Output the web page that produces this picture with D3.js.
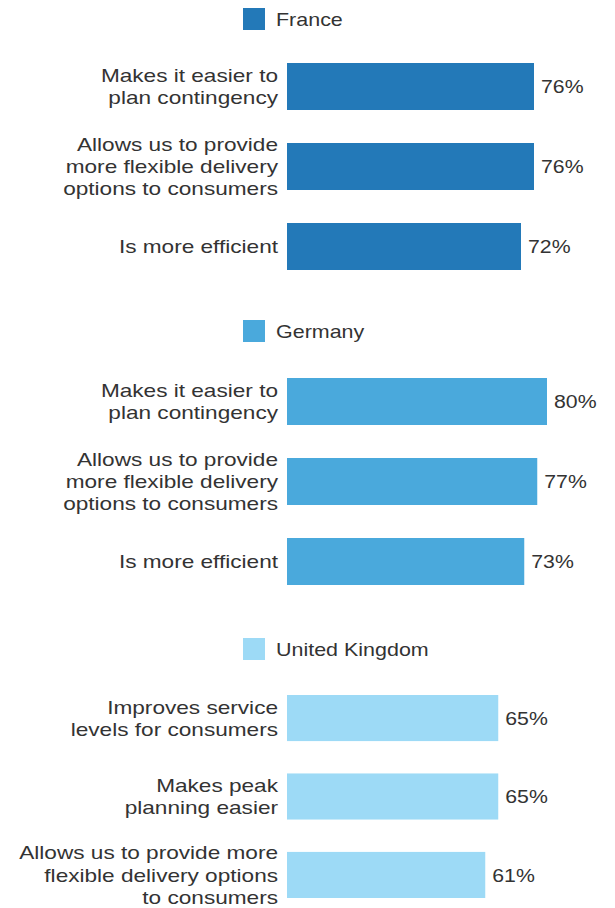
<!DOCTYPE html>
<html>
<head>
<meta charset="utf-8">
<script src="https://cdn.jsdelivr.net/npm/d3@7"></script>
<style>
  body { margin: 0; background: #fff; }
  text { font-family: "Liberation Sans", Arial, sans-serif; fill: #333; }
</style>
</head>
<body>
<div id="chart"></div>
<script>
// data
var countries = ["France", "Germany", "United Kingdom"];
var colors = ["#2379b8", "#4aa9dc", "#9ddaf6"];

var franceLabels = [
    ["Makes it easier to", "plan contingency"],
    ["Allows us to provide", "more flexible delivery", "options to consumers"],
    ["Is more efficient"]
];
var franceValues = [76, 76, 72];

var germanyLabels = [
    ["Makes it easier to", "plan contingency"],
    ["Allows us to provide", "more flexible delivery", "options to consumers"],
    ["Is more efficient"]
];
var germanyValues = [80, 77, 73];

var ukLabels = [
    ["Improves service", "levels for consumers"],
    ["Makes peak", "planning easier"],
    ["Allows us to provide more", "flexible delivery options", "to consumers"]
];
var ukValues = [65, 65, 61];

var groups = [
    { name: countries[0], color: colors[0], labels: franceLabels, values: franceValues, legendY: 19, top: 63, bottom: 270 },
    { name: countries[1], color: colors[1], labels: germanyLabels, values: germanyValues, legendY: 331, top: 378, bottom: 585 },
    { name: countries[2], color: colors[2], labels: ukLabels, values: ukValues, legendY: 649, top: 695, bottom: 898 }
];

var width = 615, height = 908;
var labelX = 278;
var lineH = 22.3;
var fontSize = 19;

var svg = d3.select("#chart")
    .append("svg")
    .attr("width", width)
    .attr("height", height);

var xScale = d3.scaleLinear()
    .domain([0, 100])
    .range([287, 612]);

groups.forEach(function(g) {
    // legend
    svg.append("rect")
        .attr("x", 243)
        .attr("y", g.legendY - 11)
        .attr("width", 22)
        .attr("height", 22)
        .attr("fill", g.color);
    svg.append("text")
        .attr("transform", "translate(276," + g.legendY + ") scale(1.13,1)")
        .attr("dy", "0.35em")
        .attr("font-size", fontSize + "px")
        .text(g.name);

    var idx = d3.range(g.values.length);
    var yScale = d3.scaleBand()
        .domain(idx)
        .range([g.top, g.bottom])
        .paddingInner(0.4125)
        .paddingOuter(0);

    svg.selectAll()
        .data(idx)
        .enter()
        .append("rect")
        .attr("x", xScale(0))
        .attr("y", i => yScale(i))
        .attr("width", i => xScale(g.values[i]) - xScale(0))
        .attr("height", yScale.bandwidth())
        .attr("fill", g.color);

    svg.selectAll()
        .data(idx)
        .enter()
        .append("text")
        .attr("transform", i => "translate(" + (xScale(g.values[i]) + 7) + "," + (yScale(i) + yScale.bandwidth() / 2) + ") scale(1.12,1)")
        .attr("dy", "0.35em")
        .attr("font-size", fontSize + "px")
        .text(i => g.values[i] + "%");

    idx.forEach(function(i) {
        var lines = g.labels[i];
        var cy = yScale(i) + yScale.bandwidth() / 2;
        var t = svg.append("text")
            .attr("transform", "translate(" + labelX + "," + cy + ") scale(1.19,1)")
            .attr("text-anchor", "end")
            .attr("font-size", fontSize + "px");
        lines.forEach(function(line, k) {
            t.append("tspan")
                .attr("x", 0)
                .attr("y", (k - (lines.length - 1) / 2) * lineH)
                .attr("dy", "0.35em")
                .text(line);
        });
    });
});
</script>
</body>
</html>
